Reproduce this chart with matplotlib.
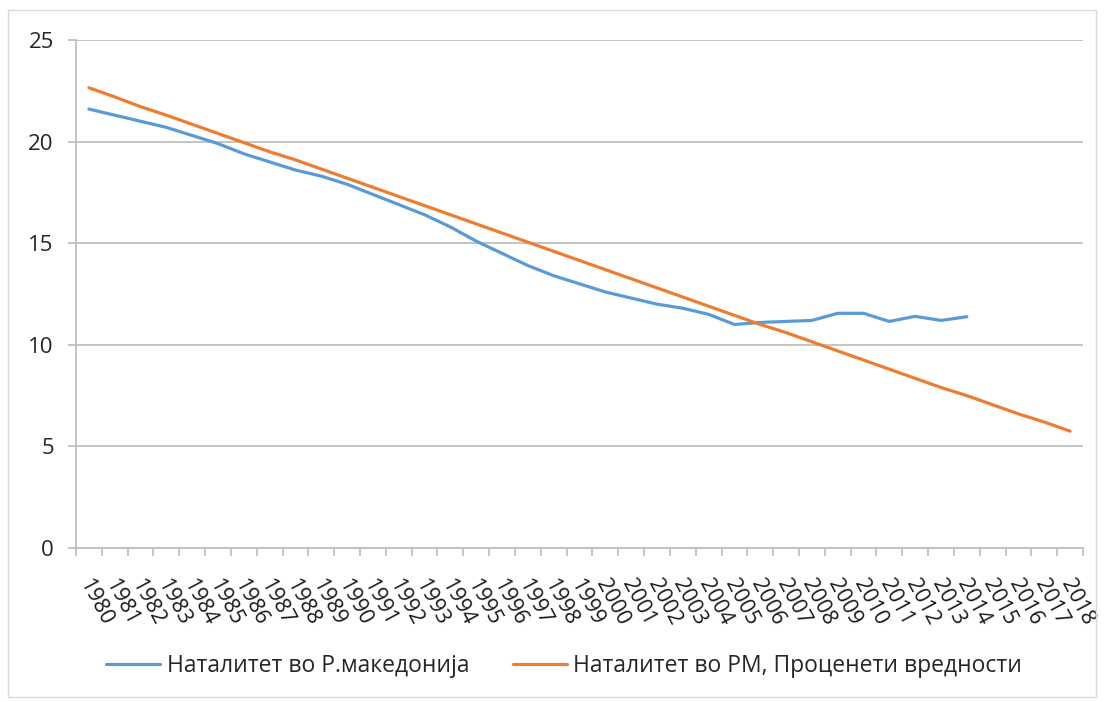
import numpy as np
import matplotlib
matplotlib.use("Agg")
import matplotlib.pyplot as plt
import matplotlib.transforms as mtransforms
from matplotlib.patches import Rectangle

plt.rcParams["font.family"] = ["Open Sans", "DejaVu Sans"]

years = [str(y) for y in range(1980, 2019)]

# Наталитет во Р.македонија (1980-2014)
natality = [21.6, 21.3, 21.0, 20.7, 20.3, 19.9, 19.4, 19.0, 18.6, 18.3,
            17.9, 17.4, 16.9, 16.4, 15.8, 15.1, 14.5, 13.9, 13.4, 13.0,
            12.6, 12.3, 12.0, 11.8, 11.5, 11.0, 11.1, 11.15, 11.2, 11.55,
            11.55, 11.15, 11.4, 11.2, 11.38]

# Наталитет во РМ, Проценети вредности (1980-2018)
estimated = [22.65, 22.2, 21.72, 21.3, 20.85, 20.4, 19.95, 19.5, 19.1, 18.65,
             18.2, 17.75, 17.3, 16.85, 16.4, 15.95, 15.5, 15.05, 14.6, 14.15,
             13.7, 13.25, 12.8, 12.35, 11.9, 11.45, 11.0, 10.6, 10.15, 9.7,
             9.25, 8.8, 8.35, 7.9, 7.5, 7.05, 6.6, 6.2, 5.75]

label_actual = "Наталитет во Р.македонија"
label_est = "Наталитет во РМ, Проценети вредности"

blue = "#5b9bd5"
orange = "#ed7d31"
grid_col = "#bfbfbf"

fig = plt.figure(figsize=(11.04, 7.02), dpi=100)
ax = fig.add_axes([76 / 1104, 1 - 548 / 702, (1083 - 76) / 1104, (548 - 40) / 702])

# outer chart border
fig.patches.append(Rectangle((8 / 1104, 5 / 702), 1088 / 1104, 687 / 702,
                             transform=fig.transFigure, fill=False,
                             edgecolor="#d9d9d9", lw=1))

x_all = np.arange(len(years))
ax.plot(x_all[:len(natality)], natality, color=blue, lw=2.3, label=label_actual,
        solid_capstyle="round")
ax.plot(x_all[:len(estimated)], estimated, color=orange, lw=2.3, label=label_est,
        solid_capstyle="round")

ax.set_xlim(-0.5, len(years) - 0.5)
ax.set_ylim(0, 25)
ax.set_yticks([0, 5, 10, 15, 20, 25])
ax.yaxis.grid(True, color=grid_col, lw=1.3)
ax.set_axisbelow(True)

for side in ["top", "right"]:
    ax.spines[side].set_visible(False)
for side in ["left", "bottom"]:
    ax.spines[side].set_color(grid_col)
    ax.spines[side].set_linewidth(1.3)

ax.tick_params(axis="y", length=6, width=1.3, color=grid_col, pad=10,
               labelsize=16, labelcolor="#262626")

ax.set_xticks(x_all)
ax.set_xticks(np.arange(-0.5, len(years), 1.0), minor=True)
ax.tick_params(axis="x", which="major", length=0, pad=20, labelsize=15.5,
               labelcolor="#1a1a1a")
ax.tick_params(axis="x", which="minor", length=6, width=1.3, color=grid_col)
ax.set_xticklabels(years, rotation=-62, ha="center", va="top")
offset = mtransforms.ScaledTranslation(7 / 100, 0, fig.dpi_scale_trans)
for lab in ax.get_xticklabels():
    lab.set_transform(lab.get_transform() + offset)

leg = fig.legend(loc="center", bbox_to_anchor=(0.511, 1 - 666 / 702), ncol=2,
                 frameon=False, handlelength=2.35, columnspacing=1.9,
                 handletextpad=0.3, prop={"size": 16.5})
for t in leg.get_texts():
    t.set_color("#262626")

fig.savefig("out.png", dpi=100)
